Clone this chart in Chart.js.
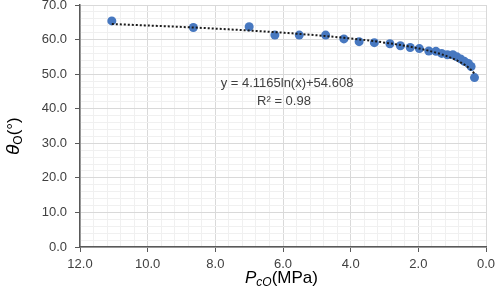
<!DOCTYPE html>
<html>
<head>
<meta charset="utf-8">
<script src="https://cdn.jsdelivr.net/npm/chart.js@4"></script>
<style>
  html, body { margin: 0; padding: 0; background: #fff; }
  #wrap { width: 498px; height: 292px; }
</style>
</head>
<body>
<div id="wrap"><canvas id="chart"></canvas></div>
<script>
// --- data ---
const pressure = [11.06, 8.65, 7.00, 6.24, 5.52, 4.74, 4.20, 3.75, 3.30, 2.84, 2.53, 2.24,
                  1.97, 1.69, 1.48, 1.31, 1.14, 0.98, 0.86, 0.75, 0.64, 0.52, 0.44, 0.34];
const angle = [65.4, 63.5, 63.7, 61.3, 61.3, 61.3, 60.2, 59.4, 59.1, 58.8, 58.2, 57.7,
               57.4, 56.7, 56.6, 56.0, 55.6, 55.6, 55.0, 54.4, 53.7, 53.1, 52.2, 49.0];

// log trendline as printed on the chart
const trendA = 4.1165;
const trendB = 54.608;
const trendR2 = 0.98;

const xMin = 0, xMax = 12, xMajor = 2, xMinor = 0.4;
const yMin = 0, yMax = 70, yMajor = 10, yMinor = 2;

const pointColor = '#4778c0';
const textColor = '#404040';
const axisColor = '#595959';

const isMajor = (v, step) => Math.abs(v / step - Math.round(v / step)) < 1e-6;

const scatterData = pressure.map((p, i) => ({ x: p, y: angle[i] }));
const trendData = pressure.map(p => ({ x: p, y: trendA * Math.log(p) + trendB }));

const FONT = '"Liberation Sans", Arial, sans-serif';

// draws the axis titles and the trendline label
const labelsPlugin = {
  id: 'labels',
  afterDraw(chart) {
    const ctx = chart.ctx;
    ctx.save();
    ctx.fillStyle = '#000';
    ctx.textBaseline = 'alphabetic';

    // x title: P_cO(MPa)
    let x = 245, base = 283;
    ctx.font = 'italic 17px ' + FONT;
    ctx.fillText('P', x, base); x += ctx.measureText('P').width;
    ctx.font = 'italic 12px ' + FONT;
    ctx.fillText('cO', x, base + 3); x += ctx.measureText('cO').width;
    ctx.font = '17px ' + FONT;
    ctx.fillText('(MPa)', x, base);

    // y title: θ_O(°), rotated
    ctx.translate(19, 155);
    ctx.rotate(-Math.PI / 2);
    x = 0;
    ctx.font = 'italic 19px ' + FONT;
    ctx.fillText('θ', x, 0); x += ctx.measureText('θ').width;
    ctx.font = '12px ' + FONT;
    ctx.fillText('O', x, 3); x += ctx.measureText('O').width;
    ctx.font = '17px ' + FONT;
    ctx.fillText('(°)', x, 0);
    ctx.setTransform(1, 0, 0, 1, 0, 0);

    // trendline equation
    ctx.fillStyle = textColor;
    ctx.textAlign = 'center';
    ctx.textBaseline = 'middle';
    ctx.font = '13px ' + FONT;
    ctx.fillText('y = ' + trendA + 'ln(x)+' + trendB, 287, 83);
    ctx.fillText('R² = ' + trendR2, 284, 101);
    ctx.restore();
  }
};

new Chart(document.getElementById('chart'), {
  type: 'scatter',
  data: {
    datasets: [
      {
        label: 'Trend',
        type: 'line',
        data: trendData,
        borderColor: '#1a1a1a',
        borderWidth: 2,
        borderDash: [2, 2],
        pointRadius: 0,
        cubicInterpolationMode: 'monotone',
        fill: false,
      },
      {
        label: 'θO',
        data: scatterData,
        backgroundColor: pointColor,
        borderWidth: 0,
        pointRadius: 4.5,
      },
    ],
  },
  options: {
    responsive: true,
    maintainAspectRatio: false,
    animation: false,
    layout: { padding: { top: 0, right: 0, left: 0, bottom: 0 } },
    plugins: { legend: { display: false }, tooltip: { enabled: false } },
    scales: {
      x: {
        type: 'linear',
        reverse: true,
        min: xMin, max: xMax,
        afterFit: s => { s.height = 45; s.paddingLeft = 0; s.paddingRight = 12; },
        ticks: {
          stepSize: xMinor,
          autoSkip: false,
          maxRotation: 0,
          padding: 5,
          color: textColor,
          font: { family: FONT, size: 13 },
          callback: v => isMajor(v, xMajor) ? v.toFixed(1) : '',
        },
        grid: {
          color: c => isMajor(c.tick.value, xMajor) ? '#d9d9d9' : '#f0f0f0',
          tickColor: c => isMajor(c.tick.value, xMajor) ? axisColor : 'rgba(0,0,0,0)',
          tickLength: 5,
          lineWidth: 1,
        },
        border: { color: axisColor, width: 1.5 },
      },
      y: {
        min: yMin, max: yMax,
        afterFit: s => { s.width = 80; s.paddingTop = 5; s.paddingBottom = 0; },
        ticks: {
          stepSize: yMinor,
          autoSkip: false,
          padding: 8,
          color: textColor,
          font: { family: FONT, size: 13 },
          callback: v => isMajor(v, yMajor) ? v.toFixed(1) : '',
        },
        grid: {
          color: c => isMajor(c.tick.value, yMajor) ? '#d9d9d9' : '#f0f0f0',
          tickColor: c => isMajor(c.tick.value, yMajor) ? axisColor : 'rgba(0,0,0,0)',
          tickLength: 5,
          lineWidth: 1,
        },
        border: { color: axisColor, width: 1.5 },
      },
    },
  },
  plugins: [labelsPlugin],
});
</script>
</body>
</html>
